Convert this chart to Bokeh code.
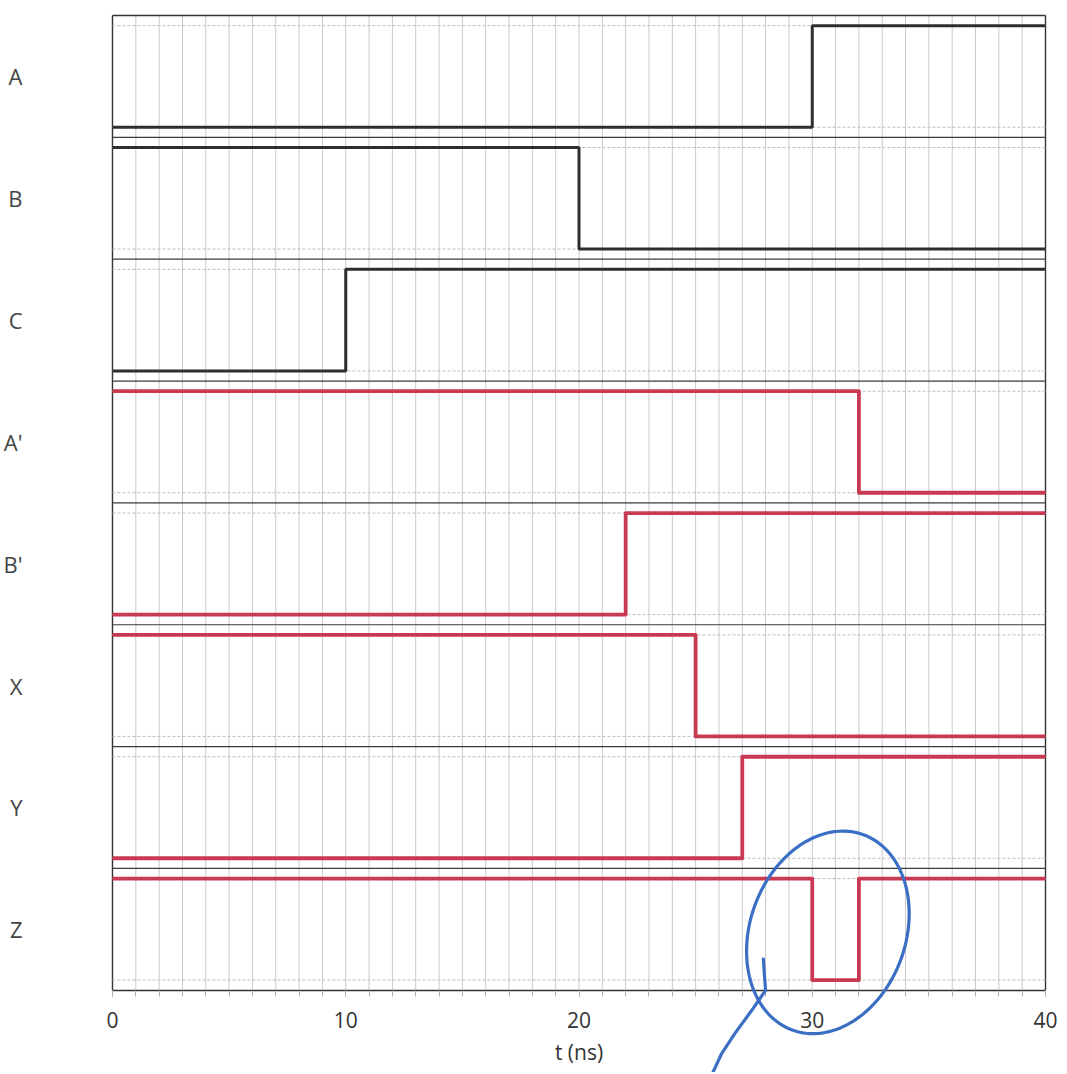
import numpy as np
from bokeh.plotting import figure
from bokeh.models import Range1d, FixedTicker, SingleIntervalTicker, PolyAnnotation
from bokeh.embed import file_html
from bokeh.resources import INLINE

# ---- data ----
signal_names = ["A", "B", "C", "A'", "B'", "X", "Y", "Z"]
A_t = [0, 30, 40];          A_v = [0, 1, 1]
B_t = [0, 20, 40];          B_v = [1, 0, 0]
C_t = [0, 10, 40];          C_v = [0, 1, 1]
Ap_t = [0, 32, 40];         Ap_v = [1, 0, 0]
Bp_t = [0, 22, 40];         Bp_v = [0, 1, 1]
X_t = [0, 25, 40];          X_v = [1, 0, 0]
Y_t = [0, 27, 40];          Y_v = [0, 1, 1]
Z_t = [0, 30, 32, 40];      Z_v = [1, 0, 1, 1]
signal_times = [A_t, B_t, C_t, Ap_t, Bp_t, X_t, Y_t, Z_t]
signal_vals = [A_v, B_v, C_v, Ap_v, Bp_v, X_v, Y_v, Z_v]
signal_kind = ["input", "input", "input", "derived", "derived", "derived", "derived", "derived"]
grid_times = list(range(0, 41))
x_tick_labels = [0, 10, 20, 30, 40]

T_MAX = 40
X_MARGIN = 0.6
ROW_H = 1.2
PAD = 0.1
N = len(signal_names)
Y_TOP = N * ROW_H
Y_BOTTOM = -0.81

BLACK = "#2e2e2e"
RED = "#c93a52"
BLUE = "#3a6fc4"
FONT = "Open Sans"

p = figure(width=1065, height=1072, output_backend="svg", toolbar_location=None,
           x_range=Range1d(-X_MARGIN, T_MAX + X_MARGIN), y_range=Range1d(Y_BOTTOM, Y_TOP + 0.02),
           min_border_left=96, min_border_right=6, min_border_top=13, min_border_bottom=0)
p.background_fill_color = "white"
p.border_fill_color = "white"
p.outline_line_color = None
p.xgrid.grid_line_color = None
p.ygrid.grid_line_color = None

# vertical grid every 1 ns (only over the rows)
p.segment(x0=grid_times, x1=grid_times, y0=[0] * len(grid_times), y1=[Y_TOP] * len(grid_times),
          line_color="#c9c9c9", line_width=1)

# x axis at t-axis baseline
p.xaxis.fixed_location = 0
p.xaxis.bounds = (0, T_MAX)
p.xaxis.ticker = SingleIntervalTicker(interval=10, num_minor_ticks=10)
p.xaxis.axis_line_color = "#333333"
p.xaxis.axis_line_width = 1.3
p.xaxis.major_tick_line_color = "#b0b0b0"
p.xaxis.minor_tick_line_color = "#b0b0b0"
p.xaxis.major_tick_out = 6
p.xaxis.major_tick_in = 0
p.xaxis.minor_tick_out = 6
p.xaxis.minor_tick_in = 0
p.xaxis.major_label_text_font = FONT
p.xaxis.major_label_text_font_size = "21px"
p.xaxis.major_label_text_color = "#333333"
p.xaxis.major_label_standoff = 16
p.xaxis.axis_label = "t (ns)"
p.xaxis.axis_label_text_font = FONT
p.xaxis.axis_label_text_font_size = "21px"
p.xaxis.axis_label_text_font_style = "normal"
p.xaxis.axis_label_text_color = "#333333"
p.xaxis.axis_label_standoff = 6

# y axis: row names
centers = [(N - 1 - i) * ROW_H + ROW_H / 2 for i in range(N)]
p.yaxis.ticker = FixedTicker(ticks=centers)
p.yaxis.major_label_overrides = {c: n for c, n in zip(centers, signal_names)}
p.yaxis.axis_line_color = None
p.yaxis.major_tick_line_color = None
p.yaxis.minor_tick_line_color = None
p.yaxis.major_label_standoff = 70
p.yaxis.major_label_text_font = FONT
p.yaxis.major_label_text_font_size = "22px"
p.yaxis.major_label_text_color = "#444444"

# frame borders (left, right, top)
p.segment(x0=[0, T_MAX, 0], x1=[0, T_MAX, T_MAX], y0=[0, 0, Y_TOP], y1=[Y_TOP, Y_TOP, Y_TOP],
          line_color="#333333", line_width=1.4)

# row separators and dashed level guides
sep_y = [k * ROW_H for k in range(1, N)]
p.segment(x0=[0] * len(sep_y), x1=[T_MAX] * len(sep_y), y0=sep_y, y1=sep_y,
          line_color="#3a3a3a", line_width=1.2)
lvl_y = []
for k in range(N):
    lvl_y += [k * ROW_H + PAD, k * ROW_H + ROW_H - PAD]
p.segment(x0=[0] * len(lvl_y), x1=[T_MAX] * len(lvl_y), y0=lvl_y, y1=lvl_y,
          line_color="#bdbdbd", line_width=1, line_dash="3 2")

# signals
for i, (ts, vs, kind) in enumerate(zip(signal_times, signal_vals, signal_kind)):
    base = (N - 1 - i) * ROW_H + PAD
    ys = [base + v for v in vs]
    if kind == "input":
        p.step(ts, ys, mode="after", line_color=BLACK, line_width=3)
    else:
        p.step(ts, ys, mode="after", line_color=RED, line_width=3.8, line_join="round")

# hand-drawn blue circle around the glitch on Z (annotation)
px_per_t = 935 / T_MAX
px_per_y = 975 / Y_TOP
ell_cx, ell_cy = 30.67, 0.57
ell_a, ell_b, ell_ang = 104, 78, np.deg2rad(70)
th = np.linspace(0, 2 * np.pi, 160)
ex = ell_a * np.cos(th) * np.cos(ell_ang) - ell_b * np.sin(th) * np.sin(ell_ang)
ey = ell_a * np.cos(th) * np.sin(ell_ang) + ell_b * np.sin(th) * np.cos(ell_ang)
p.add_layout(PolyAnnotation(xs=list(ell_cx + ex / px_per_t), ys=list(ell_cy + ey / px_per_y),
                            fill_alpha=0, line_color=BLUE, line_alpha=1, line_width=3.2))
tail_t = [27.9, 27.95, 28.0, 27.4, 26.7, 26.1, 25.7]
tail_y = [0.32, 0.15, 0.0, -0.2, -0.42, -0.63, -0.83]
p.add_layout(PolyAnnotation(xs=tail_t + tail_t[::-1], ys=tail_y + tail_y[::-1],
                            fill_alpha=0, line_color=BLUE, line_alpha=1, line_width=3.2))

open("out.html", "w").write(file_html(p, INLINE))
